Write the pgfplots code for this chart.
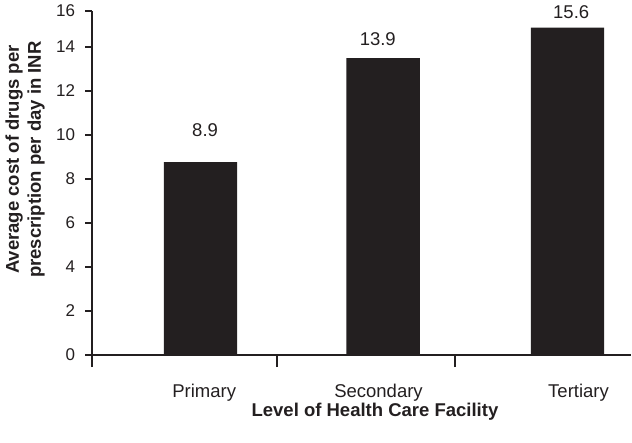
\documentclass[border=0pt]{standalone}
\usepackage{fontspec}
\setmainfont{Liberation Sans}
\usepackage{pgfplots}
\pgfplotsset{compat=1.18}
\definecolor{ink}{RGB}{35,31,32}
\begin{document}
\begin{tikzpicture}
\useasboundingbox (0pt,0pt) rectangle (632pt,442pt);
\begin{axis}[
  at={(92pt,87pt)}, anchor=south west,
  scale only axis, width=539pt, height=344pt,
  xmin=-0.5913, xmax=2.346, ymin=0, ymax=15.62,
  clip=false,
  axis x line=bottom, axis y line=left,
  axis line style={-, line width=2pt, color=ink},
  /pgf/number format/assume math mode=true,
  ytick={0,2,4,6,8,10,12,14,15.62},
  yticklabels={0,2,4,6,8,10,12,14,16},
  tick align=outside, major tick length=6.5pt,
  ytick style={line width=2pt, color=ink},
  yticklabel style={font=\fontsize{17}{20}\selectfont, text=ink, xshift=-7pt},
  xtick={0.02,0.97,2.06}, xticklabels={Primary,Secondary,Tertiary},
  xtick style={draw=none},
  xticklabel style={font=\fontsize{18.5}{22}\selectfont, text=ink, anchor=base, yshift=-36pt},
  extra x ticks={-0.5913,0.4169,1.387}, extra x tick labels={},
  extra x tick style={major tick length=12pt, xtick style={draw=ink, line width=2pt}},
  xlabel={Level of Health Care Facility},
  xlabel style={font=\bfseries\fontsize{18.5}{22}\selectfont, text=ink, at={(axis description cs:0.525,-0.179)}, anchor=base},
  ylabel={Average cost of drugs per\\prescription per day in INR},
  ylabel style={font=\bfseries\fontsize{18.5}{22}\selectfont, text=ink, align=center, at={(axis description cs:-0.124,0.568)}, anchor=center},
]
\addplot[ybar, bar width=0.4, fill=ink, draw=none] coordinates {(0,8.76) (0.995,13.48) (2,14.86)};
\addplot[draw=none, mark=none, nodes near coords, point meta=explicit symbolic,
  every node near coord/.append style={anchor=center, font=\fontsize{18.5}{22}\selectfont, text=ink}]
  coordinates {(0.025,10.22)[8.9] (0.966,14.35)[13.9] (2.02,15.55)[15.6]};
\end{axis}
\end{tikzpicture}
\end{document}
